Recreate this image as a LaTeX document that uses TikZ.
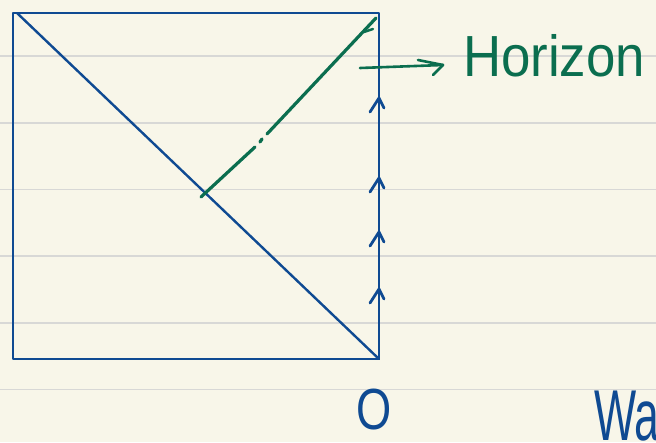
\documentclass[tikz,border=0pt]{standalone}
\usepackage{fontspec}
\newfontfamily\handfont{Liberation Sans}
\definecolor{paper}{HTML}{F8F6E9}
\definecolor{rule}{HTML}{D8D8D6}
\definecolor{inkblue}{HTML}{0F4A92}
\definecolor{inkgreen}{HTML}{0B6E4F}
\begin{document}
\begin{tikzpicture}[x=1pt,y=-1pt,
  ruling/.style={rule,line width=1.6pt},
  blueline/.style={inkblue,line width=2.4pt,line cap=round,line join=round},
  greenline/.style={inkgreen,line width=3.2pt,line cap=round,line join=round},
  chev/.style={inkblue,line width=2.8pt,line cap=round,line join=round},
  hand/.style={inner sep=0pt,outer sep=0pt,anchor=base west}]
% paper
\fill[paper] (0,0) rectangle (656,442);
\useasboundingbox (0,0) rectangle (656,442);
% ruled lines
\foreach \yy in {56,123,189.5,256,323,389.5}
  \draw[ruling] (0,\yy) -- (656,\yy);
% square corners
\coordinate (tl) at (13,13);
\coordinate (tr) at (379,13);
\coordinate (br) at (379,359);
\coordinate (bl) at (13,359);
\coordinate (dstart) at (17,13);
\draw[blueline] (tl) -- (tr) -- (br) -- (bl) -- cycle;
\draw[blueline] (dstart) -- (br);
% arrows on right edge
\foreach \n/\yy in {a/98,b/178,c/232,d/289}{
  \coordinate (tip\n) at (379,\yy);
  \draw[chev] (tip\n) ++(-9,14) -- (tip\n) -- ++(5,10);
}
% green horizon line
\coordinate (g0) at (201,197);
\coordinate (g1) at (255,147);
\coordinate (g2) at (260,142);
\coordinate (g3) at (262,139);
\coordinate (g4) at (267,134);
\coordinate (g5) at (376,18);
\draw[greenline] (g0) -- (g1);
\draw[greenline] (g2) -- (g3);
\draw[greenline] (g4) -- (g5);
\coordinate (f0) at (364,32);
\coordinate (f1) at (373,29);
\draw[greenline,line width=2.4pt] (f0) -- (f1);
% arrow to label
\coordinate (h0) at (360,68);
\coordinate (h1) at (443,65);
\draw[greenline,line width=2.6pt] (h0) -- (h1);
\draw[greenline,line width=2.6pt] (418,60) -- (h1) -- (433,75);
\node[hand,inkgreen,font=\handfont\fontsize{58}{58}\selectfont,xscale=0.91] (horizon) at (463,76) {Horizon};
% bottom labels
\node[hand,inkblue,font=\handfont\fontsize{58}{58}\selectfont,xscale=0.78] (origin) at (356,429) {O};
\node[hand,inkblue,font=\handfont\fontsize{72}{72}\selectfont,xscale=0.62] (wa) at (594,440) {Wa};
\end{tikzpicture}
\end{document}
